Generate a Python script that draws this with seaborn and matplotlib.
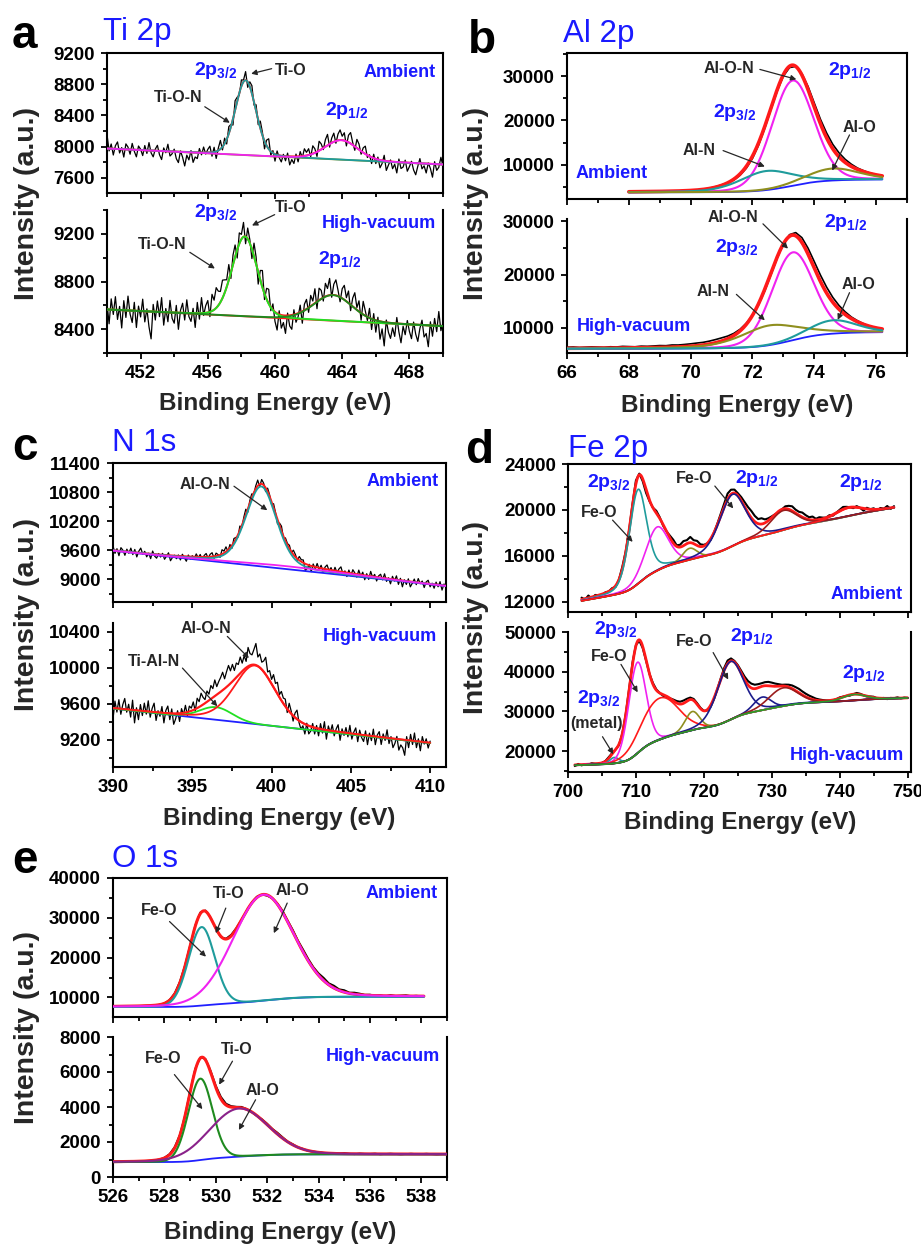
import math
import numpy as np
import matplotlib
matplotlib.use("Agg")
import matplotlib.pyplot as plt
from matplotlib.ticker import MultipleLocator
import seaborn as sns

# ---------------------------------------------------------------------------
# Fitted XPS components.  For every region: data range (eV), background end
# points (counts), share of a straight-line background (1 = linear, the rest
# follows a Shirley step), and pseudo-Voigt peaks given as centre (eV),
# height above background (counts), FWHM (eV) and Lorentzian fraction.
# Residuals are measured counts minus the fit on an even grid over the range.
# ---------------------------------------------------------------------------

# ---- Ti 2p, ambient ----
TI_AMB_RANGE = (450.0, 470.0)
TI_AMB_BG = (7975, 7770)
TI_AMB_CENTER = [458.25, 463.95]
TI_AMB_HEIGHT = [960, 250]
TI_AMB_FWHM = [1.45, 2.3]
TI_AMB_ETA = [0.1, 0.1]
TI_AMB_RESID = [  # units of 10 counts
    18, -3, 6, -8, 4, 9, -5, 2, -10, 7, 3, -6, 8, -2, -9, 5,
    1, -7, 6, -4, 10, -3, -8, 2, 7, -5, -11, 4, -2, 9, -6, -3,
    3, -9, -14, 1, -7, -18, -4, -10, 2, -13, -6, -8, 5, -3, 7, -2,
    4, 8, -5, 6, -9, 3, 11, -4, 7, -6, 9, 3, -8, 12, 5, -3,
    8, 2, 11, -7, 6, 10, -4, 8, -6, 9, 4, -10, 7, 13, -5, 3,
    -9, 5, -3, -8, 2, -6, 4, -11, -4, -9, 3, -7, 6, -2, 9, 4,
    8, -3, 10, 5, -6, 12, 7, -2, 9, 14, -4, 6, 11, -3, 8, 13,
    5, 10, -6, 9, 14, 3, -5, 11, 7, -4, 6, 10, -3, 2, -8, 5,
    -6, 3, -10, -4, 7, -12, -5, 2, -9, -3, -14, 4, -8, -6, 3, -11,
    -5, 2, -9, -15, -4, 6, -7, -3, -12, 1, -6, -17, 3, -8, -4, 9, -2]

# ---- Ti 2p, high vacuum ----
TI_HV_RANGE = (450.0, 470.0)
TI_HV_BG = (8565, 8425)
TI_HV_CENTER = [458.2, 463.45]
TI_HV_HEIGHT = [670, 215]
TI_HV_FWHM = [1.75, 2.7]
TI_HV_ETA = [0.1, 0.1]
TI_HV_RESID = [  # units of 10 counts
    5, -12, 9, -4, 11, -8, 3, -15, 8, -6, 12, -3, -10, 7, -14, 4,
    -5, 10, -9, 2, -13, -23, 6, -7, 9, -4, 12, -11, 3, -8, 10, -5,
    -9, 6, -14, 2, 8, -6, 11, -3, -7, 4, -12, 9, -5, 13, -2, 6,
    10, -4, 14, 8, 17, 12, 9, 15, 11, 6, 13, -5, 8, 10, -7, 9,
    4, 12, -6, 9, 3, -8, 11, 6, -10, 8, 14, -5, 9, 12, -3, 5,
    -8, -14, 3, -11, -6, -15, 2, -9, -12, 4, -7, -3, 6, -10, 5, 8,
    -4, 9, 3, 12, -6, 10, 7, -3, 11, 6, 14, -2, 9, 13, 5, -4,
    8, 12, 3, 10, -5, 7, 13, 2, 9, -6, 11, 4, -3, 8, -9, 5,
    -10, 3, -15, -6, -20, 2, -8, -13, -4, -11, 5, -7, -16, -2, -9, 3,
    -6, -12, 2, -8, -14, -3, 4, -10, -7, -18, 3, -9, 6, -5, 12, -4, 3]

# ---- Al 2p, ambient ----
AL_AMB_RANGE = (68.0, 76.2)
AL_AMB_BG = (3800, 6700)
AL_AMB_CENTER = [73.3, 72.45, 74.6]        # Al-O-N, Al-N, Al-O
AL_AMB_HEIGHT = [23700, 4300, 2700]
AL_AMB_FWHM = [1.6, 2.0, 2.0]
AL_AMB_ETA = [0.1, 0.3, 0.3]
AL_AMB_RESID = [
    0, 0, 50, 0, -50, 0, 50, 0, 0, 50, 0, -50, 0, 50, 100,
    100, 0, -200, -300, -400, -500, -500, -400, -300, -300,
    -300, -300, 0, 300, 700, 900,
    1000, 1100, 1000, 900, 700, 500, 300, 200, 100, 0, 0]

# ---- Al 2p, high vacuum ----
AL_HV_RANGE = (66.0, 76.2)
AL_HV_BG = (6100, 9200)
AL_HV_CENTER = [73.3, 72.55, 74.6]         # Al-O-N, Al-N, Al-O
AL_HV_HEIGHT = [16450, 3700, 2500]
AL_HV_FWHM = [1.6, 2.2, 1.8]
AL_HV_ETA = [0.1, 0.45, 0.2]
AL_HV_RESID = [
    200, 250, 150, 200, 250, 200, 150, 250, 200, 300,
    250, 200, 300, 250, 300, 350, 300, 400, 350, 400,
    450, 500, 500, 550, 600, 600, 500, 400, 300, 200,
    0, -200, -300, -300, -200, 0, 300,
    600, 900, 1100, 1200, 1200, 1100, 900, 700, 500, 300, 200, 100, 0, 0, 0]

# ---- N 1s, ambient ----
N_AMB_RANGE = (390.0, 411.0)
N_AMB_BG = (9590, 8860)
N_AMB_CENTER = [399.35, 401.0]             # Al-O-N, loss tail
N_AMB_HEIGHT = [1650, 60]
N_AMB_FWHM = [2.3, 9.0]
N_AMB_ETA = [0.3, 0.0]
N_AMB_RESID = [  # units of 10 counts
    9, -6, 4, -10, 7, 2, -8, 5, -3, 8, -5, 6, -9, 3, 10, -2,
    4, -7, 1, -10, 6, -4, -8, 2, -5, 3, -9, -2, 5, -11, -4, 1,
    -6, 2, -8, 4, -3, -10, 3, -5, 2, -4, 6, -2, 5, -6, 3, 7,
    -3, 5, 8, -4, 6, 2, -5, 9, 4, 10, -3, 7, -6, 8, 3, -5,
    9, -4, 6, 11, -7, 5, 8, -3, 6, 12, -5, 9, 4, -8, 7, 3,
    -6, 8, 2, -9, 5, 10, -4, 6, 3, 7, -2, 9, 5, -3, 8, 4,
    6, -14, -8, 2, -12, 5, -4, 8, -3, 6, -7, 4, 9, -2, 5, -6,
    7, -3, 5, 10, -4, 3, -8, 6, -5, 8, 2, -6, 9, -3, 6, -9,
    4, -7, 10, -2, 5, -8, 3, 7, -4, 9, -6, 2, -10, 6, -3, 8,
    -9, 4, -13, 2, -7, 5, -11, -3, 6, -5, 8, -2, 4, -9, 3, 7,
    -6, 2, -8, 5, -4, 7, -10, 3, -5]

# ---- N 1s, high vacuum ----
N_HV_RANGE = (390.0, 410.0)
N_HV_BG = (9550, 9165)
N_HV_CENTER = [396.5, 398.95]              # Ti-Al-N, Al-O-N
N_HV_HEIGHT = [140, 650]
N_HV_FWHM = [2.4, 3.1]
N_HV_ETA = [0.0, 0.25]
N_HV_RESID = [  # units of 10 counts
    -12, 8, -4, 10, -6, 5, 12, -3, 6, -8, 11, -14, 3, -10, 7, -5,
    9, -3, 12, -6, 4, 10, -9, 2, -4, 7, -11, 3, 8, -7, 5, -12,
    -6, 3, -9, 5, -2, 8, -4, 6, 3, 9, -2, 11, 6, 14, 8, 4,
    12, 7, 15, 10, 18, 9, 13, 16, 20, 11, 17, 22, 14, 19, 10, 16,
    12, 18, 9, 15, 7, 21, 13, 11, 17, 24, 10, 15, 8, 12, 19, 6,
    11, 5, 14, 8, 13, 3, 10, 6, 8, -4, 9, 3, -6, 5, 10, -2,
    -8, -3, -11, 2, -9, -5, 4, -7, 3, -8, 6, -4, 9, -10, 5, -2,
    7, -5, 3, 8, -9, 4, -3, 6, -4, 9, -6, 2, 7, -8, 5, -3,
    -7, 5, -10, 3, -5, 8, -9, 2, 6, -8, 4, -3, 9, -6, 2, -10,
    -5, 3, -12, -6, -9, -17, 4, -8, 7, -4, 9, -7, 3, -10, 6, -2,
    4, -6, 2]

# ---- Fe 2p, ambient ----
FE_AMB_RANGE = (702.0, 748.0)
FE_AMB_BG = (12100, 20200)
FE_AMB_LIN = 0.55
FE_AMB_CENTER = [710.3, 713.1, 717.9, 724.2, 731.7, 741.3]
FE_AMB_HEIGHT = [8200, 3800, 1000, 4500, 1700, 700]
FE_AMB_FWHM = [3.0, 4.0, 2.5, 4.5, 4.5, 4.5]
FE_AMB_ETA = [0.3, 0.3, 0.1, 0.3, 0.2, 0.1]
FE_AMB_RESID = [
    150, -100, 200, -150, 100, 0, -100, 50, 0, 100, -100, 0, 200, 100, 0, 100,
    300, 100, -200, -300, -100, 0, 200, 100, -100, 0, 200, 300, 100, 200, 400, 300,
    500, 300, 400, 200, 100, 0, -100, 0, 100, 200, 300, 500, 400, 300, 200, 300,
    400, 500, 600, 500, 400, 500, 300, 200, 100, 0, -100, 0, 200, 300, 400, 300,
    300, 400, 300, 200, 300, 100, 200, 100, 0, 100, -100, 0, 100, 200, 100, 0,
    -100, 100, 0, -200, 100, 0, 100, -100, 100, 0, 200, -100, 100]

# ---- Fe 2p, high vacuum ----
FE_HV_RANGE = (701.0, 750.0)
FE_HV_BG = (16400, 33400)
FE_HV_LIN = 0.15
FE_HV_CENTER = [706.8, 710.2, 713.5, 718.3, 723.9, 728.6, 731.7, 742.1]
FE_HV_HEIGHT = [1500, 23000, 10500, 4700, 14700, 3300, 4600, 1500]
FE_HV_FWHM = [1.6, 3.0, 6.5, 2.5, 4.5, 3.0, 5.0, 4.0]
FE_HV_ETA = [0.0, 0.1, 0.0, 0.1, 0.2, 0.1, 0.1, 0.1]
FE_HV_RESID = [
    -300, 200, -200, 100, -100, 200, 0, -100, 0, 100, 300, 200, 0, -200, 0, 200,
    300, 500, 200, -200, -400, -200, 0, 300, 200, 0, -300, -200, 0, 300, 500, 600,
    700, 600, 500, 400, 300, 200, 0, -200, -400, -300, 0, 300, 600, 800, 600, 300,
    400, 600, 800, 1000, 1100, 1000, 900, 800, 900, 1000, 900, 700, 500, 300, 400, 600,
    800, 900, 1000, 900, 800, 700, 600, 400, 300, 200, 100, 0, -100, 0, 200, 100,
    0, -200, 0, 300, 200, 0, -100, 100, 200, -100, 0, 100, -200, 100, 0, 200,
    -100, 100, 0]

# ---- O 1s, ambient ----
O_AMB_RANGE = (526.0, 538.1)
O_AMB_BG = (7600, 10200)
O_AMB_CENTER = [529.45, 531.85]            # Fe-O, Al-O
O_AMB_HEIGHT = [19700, 26600]
O_AMB_FWHM = [1.2, 2.8]
O_AMB_ETA = [0.05, 0.1]
O_AMB_RESID = [
    0, 0, 0, 0, 0, 0, 0, 0, 0, 0,
    0, 100, 200, 300, 200, 100, 200, 300, 200, 100,
    0, -200, 100, 300, 200, 0, -100, 100, 200, 0,
    -200, 0, 200, 400, 300, 500, 400, 600, 500, 400,
    500, 700, 400, 600, 300, 500, 200, 400, 300, 100,
    200, 0, 100, -100, 200, 0, 100, 200, 0, 100, 0]

# ---- O 1s, high vacuum ----
O_HV_RANGE = (526.0, 539.0)
O_HV_BG = (850, 1300)
O_HV_CENTER = [529.4, 530.9]               # Fe-O, Al-O
O_HV_HEIGHT = [4650, 2750]
O_HV_FWHM = [1.1, 2.7]
O_HV_ETA = [0.05, 0.1]
O_HV_RESID = [
    0, 0, 0, 0, 0, 0, 0, 0, 0, 0,
    20, 40, 60, 40, 20, 60, 80, 40, 60, 80,
    100, 120, 80, 60, 40, 60, 20, 0, -20, 40,
    60, 40, 80, 60, 20, 40, 0, 20, -20, 0,
    20, 0, -20, 20, 0, 40, 0, -20, 20, 0,
    0, 20, -20, 0, 20, 0, -20, 0, 20, 0,
    0, 20, 0, -20, 0, 0]

# ---------------------------------------------------------------------------
TEAL, MAGENTA, OLIVE = "#1f9c9c", "#f022f0", "#8f8f1f"
BLUE, NAVY, DARKRED = "#2020ff", "#1c1c8c", "#9a1c1c"
RED, LIME, DKGREEN = "#ff1a1a", "#22e022", "#1f8a1f"
PURPLE, GREEN = "#8a228a", "#2a9a2a"
LABEL_BLUE, INK = "#1a1aff", "#262626"

LN2 = math.log(2.0)
_erf = np.vectorize(math.erf)


def pvoigt(x, c, h, w, eta):
    u = (x - c) / w
    return h * ((1 - eta) * np.exp(-4 * LN2 * u * u) + eta / (1 + 4 * u * u))


def pvoigt_cum(x, c, h, w, eta):
    u = (np.asarray(x, float) - c) / w
    g = h * w / 4 * math.sqrt(math.pi / LN2) * (1 + _erf(2 * math.sqrt(LN2) * u))
    lor = h * w / 2 * (np.arctan(2 * u) + math.pi / 2)
    return (1 - eta) * g + eta * lor


def peaks(reg):
    return list(zip(reg["center"], reg["height"], reg["fwhm"], reg["eta"]))


def background(x, reg):
    x0, x1 = reg["range"]
    lo, hi = reg["bg"]
    lin = (x - x0) / (x1 - x0)
    share = reg["lin"]
    if share >= 1:
        return lo + (hi - lo) * lin
    cum = sum(pvoigt_cum(x, *p) for p in peaks(reg))
    c0 = sum(pvoigt_cum(x0, *p) for p in peaks(reg))
    c1 = sum(pvoigt_cum(x1, *p) for p in peaks(reg))
    step = (cum - c0) / (c1 - c0)
    return lo + (hi - lo) * (share * lin + (1 - share) * step)


def model(x, reg):
    bg = background(x, reg)
    comps = [pvoigt(x, *p) for p in peaks(reg)]
    return bg, comps, bg + sum(comps)


REGIONS = {
    "a1": dict(range=TI_AMB_RANGE, bg=TI_AMB_BG, lin=1.0, center=TI_AMB_CENTER,
               height=TI_AMB_HEIGHT, fwhm=TI_AMB_FWHM, eta=TI_AMB_ETA,
               resid=TI_AMB_RESID, unit=10, data_range=TI_AMB_RANGE,
               colors=[TEAL, MAGENTA], bg_color=OLIVE, env_lw=1.4, comp_lw=1.3, data_lw=0.9),
    "a2": dict(range=TI_HV_RANGE, bg=TI_HV_BG, lin=1.0, center=TI_HV_CENTER,
               height=TI_HV_HEIGHT, fwhm=TI_HV_FWHM, eta=TI_HV_ETA,
               resid=TI_HV_RESID, unit=10, data_range=TI_HV_RANGE,
               colors=[LIME, DKGREEN], bg_color=RED, env_lw=1.4, comp_lw=1.4, data_lw=0.9),
    "b1": dict(range=AL_AMB_RANGE, bg=AL_AMB_BG, lin=0.0, center=AL_AMB_CENTER,
               height=AL_AMB_HEIGHT, fwhm=AL_AMB_FWHM, eta=AL_AMB_ETA,
               resid=AL_AMB_RESID, unit=1, data_range=AL_AMB_RANGE,
               colors=[MAGENTA, TEAL, OLIVE], bg_color=BLUE, env_lw=2.6, comp_lw=1.5, data_lw=1.2),
    "b2": dict(range=AL_HV_RANGE, bg=AL_HV_BG, lin=0.0, center=AL_HV_CENTER,
               height=AL_HV_HEIGHT, fwhm=AL_HV_FWHM, eta=AL_HV_ETA,
               resid=AL_HV_RESID, unit=1, data_range=AL_HV_RANGE,
               colors=[MAGENTA, OLIVE, TEAL], bg_color=BLUE, env_lw=2.6, comp_lw=1.5, data_lw=1.2),
    "c1": dict(range=N_AMB_RANGE, bg=N_AMB_BG, lin=1.0, center=N_AMB_CENTER,
               height=N_AMB_HEIGHT, fwhm=N_AMB_FWHM, eta=N_AMB_ETA,
               resid=N_AMB_RESID, unit=10, data_range=N_AMB_RANGE,
               colors=[TEAL, MAGENTA], bg_color=BLUE, env_lw=1.4, comp_lw=1.3, data_lw=0.9),
    "c2": dict(range=N_HV_RANGE, bg=N_HV_BG, lin=1.0, center=N_HV_CENTER,
               height=N_HV_HEIGHT, fwhm=N_HV_FWHM, eta=N_HV_ETA,
               resid=N_HV_RESID, unit=10, data_range=N_HV_RANGE,
               colors=[LIME, RED], bg_color=BLUE, env_lw=1.6, comp_lw=1.3, data_lw=0.9),
    "d1": dict(range=FE_AMB_RANGE, bg=FE_AMB_BG, lin=FE_AMB_LIN, center=FE_AMB_CENTER,
               height=FE_AMB_HEIGHT, fwhm=FE_AMB_FWHM, eta=FE_AMB_ETA,
               resid=FE_AMB_RESID, unit=1, data_range=FE_AMB_RANGE,
               colors=[TEAL, MAGENTA, OLIVE, NAVY, DARKRED, RED], bg_color=GREEN,
               env_lw=2.0, comp_lw=1.2, data_lw=1.5),
    "d2": dict(range=FE_HV_RANGE, bg=FE_HV_BG, lin=FE_HV_LIN, center=FE_HV_CENTER,
               height=FE_HV_HEIGHT, fwhm=FE_HV_FWHM, eta=FE_HV_ETA,
               resid=FE_HV_RESID, unit=1, data_range=FE_HV_RANGE,
               colors=[TEAL, MAGENTA, RED, OLIVE, NAVY, NAVY, DARKRED, GREEN], bg_color=NAVY,
               env_lw=2.0, comp_lw=1.2, data_lw=1.5),
    "e1": dict(range=O_AMB_RANGE, bg=O_AMB_BG, lin=0.0, center=O_AMB_CENTER,
               height=O_AMB_HEIGHT, fwhm=O_AMB_FWHM, eta=O_AMB_ETA,
               resid=O_AMB_RESID, unit=1, data_range=(526.0, 538.0),
               colors=[TEAL, MAGENTA], bg_color=BLUE, env_lw=2.2, comp_lw=1.5, data_lw=1.3),
    "e2": dict(range=O_HV_RANGE, bg=O_HV_BG, lin=0.0, center=O_HV_CENTER,
               height=O_HV_HEIGHT, fwhm=O_HV_FWHM, eta=O_HV_ETA,
               resid=O_HV_RESID, unit=1, data_range=O_HV_RANGE,
               colors=[DKGREEN, PURPLE], bg_color=BLUE, env_lw=2.2, comp_lw=1.5, data_lw=1.3),
}

# axis limits and tick steps
XLIM = {"a": (450, 470), "b": (66, 77), "c": (390, 411), "d": (700, 750.5), "e": (526, 539)}
XSTEP = {"a": (4, 2), "b": (2, 1), "c": (5, 2.5), "d": (10, 5), "e": (2, 1)}
YLIM = {"a1": (7405, 9200), "a2": (8200, 9400), "b1": (2300, 35200), "b2": (5300, 30400),
        "c1": (8530, 11400), "c2": (8900, 10500), "d1": (11130, 24000), "d2": (14700, 50100),
        "e1": (5100, 40000), "e2": (0, 8000)}
YSTEP = {"a1": (400, 200), "a2": (400, 200), "b1": (10000, 5000), "b2": (10000, 5000),
         "c1": (600, 300), "c2": (400, 200), "d1": (4000, 2000), "d2": (10000, 5000),
         "e1": (10000, 5000), "e2": (2000, 1000)}

# text labels: (text, x, y, kind)  kind: 'sub' blue orbital, 'bond' dark label,
# 'state' blue condition, alignment given by last char of kind
NOTES = {
    "a1": [("2p$_{3/2}$", 455.2, 8921, "sub"), ("Ti-O", 460.0, 8921, "bond"),
           ("Ti-O-N", 452.8, 8575, "bond"), ("2p$_{1/2}$", 462.95, 8408, "sub"),
           ("Ambient", 469.55, 8892, "state_r")],
    "a2": [("2p$_{3/2}$", 455.2, 9342, "sub"), ("Ti-O", 460.0, 9384, "bond"),
           ("Ti-O-N", 451.85, 9073, "bond"), ("2p$_{1/2}$", 462.55, 8946, "sub"),
           ("High-vacuum", 469.6, 9248, "state_r")],
    "b1": [("Al-O-N", 70.41, 30600, "bond"), ("2p$_{1/2}$", 74.43, 30225, "sub"),
           ("2p$_{3/2}$", 70.72, 20850, "sub"), ("Al-O", 74.91, 17480, "bond"),
           ("Al-N", 69.75, 12250, "bond"), ("Ambient", 66.27, 7000, "state_l")],
    "b2": [("Al-O-N", 70.56, 29810, "bond"), ("2p$_{1/2}$", 74.33, 28870, "sub"),
           ("2p$_{3/2}$", 70.78, 24150, "sub"), ("Al-N", 70.19, 15960, "bond"),
           ("Al-O", 74.87, 17230, "bond"), ("High-vacuum", 66.32, 9360, "state_l")],
    "c1": [("Al-O-N", 394.17, 10872, "bond"), ("Ambient", 410.52, 10920, "state_r")],
    "c2": [("Al-O-N", 394.28, 10389, "bond"), ("Ti-Al-N", 390.92, 10017, "bond"),
           ("High-vacuum", 410.46, 10295, "state_r")],
    "d1": [("2p$_{3/2}$", 702.8, 22022, "sub"), ("Fe-O", 701.88, 19407, "bond"),
           ("Fe-O", 715.94, 22318, "bond"), ("2p$_{1/2}$", 724.58, 22318, "sub"),
           ("2p$_{1/2}$", 739.88, 22022, "sub"), ("Ambient", 749.26, 12296, "state_r")],
    "d2": [("2p$_{3/2}$", 703.85, 49566, "sub"), ("Fe-O", 703.36, 42755, "bond"),
           ("2p$_{3/2}$", 701.38, 32143, "sub"), ("(metal)", 700.4, 25765, "bond"),
           ("Fe-O", 715.94, 46580, "bond"), ("2p$_{1/2}$", 723.84, 47857, "sub"),
           ("2p$_{1/2}$", 740.37, 38520, "sub"), ("High-vacuum", 749.5, 17678, "state_r")],
    "e1": [("Fe-O", 527.1, 30756, "bond"), ("Ti-O", 529.87, 34962, "bond"),
           ("Al-O", 532.33, 35794, "bond"), ("Ambient", 538.62, 34962, "state_r")],
    "e2": [("Fe-O", 527.23, 6527, "bond"), ("Ti-O", 530.2, 7004, "bond"),
           ("Al-O", 531.16, 4702, "bond"), ("High-vacuum", 538.71, 6619, "state_r")],
}

# pointer arrows: (tail, head)
ARROWS = {
    "a1": [((459.8, 8999), (458.58, 8934)), ((455.82, 8511), (457.31, 8305))],
    "a2": [((459.98, 9361), (458.63, 9270)), ((454.93, 9045), (456.42, 8909))],
    "b1": [((72.24, 31500), (73.42, 29260)), ((75.14, 16740), (74.58, 8720)),
           ((71.05, 13210), (72.4, 9620))],
    "b2": [((72.34, 29490), (73.15, 24850)), ((71.48, 16280), (72.4, 11430)),
           ((75.14, 16600), (74.76, 11510))],
    "c1": [((397.63, 10920), (399.73, 10425))],
    "c2": [((397.21, 10351), (398.57, 10110)), ((394.38, 9999), (396.58, 9575))],
    "d1": [((706.56, 19120), (709.52, 17229)), ((721.62, 22083), (724.33, 20140))],
    "d2": [((707.8, 41913), (710.26, 34847)), ((705.08, 23622), (706.66, 19210)),
           ((721.37, 44898), (723.59, 38087))],
    "e1": [((528.2, 29068), (529.62, 20252)), ((530.39, 32443), (530.0, 26146)),
           ((532.78, 33703), (532.26, 26146))],
    "e2": [((528.39, 5853), (529.48, 3879)), ((530.65, 6619), (530.13, 5278)),
           ((531.55, 4414), (530.9, 2688))],
}

PANELS = [("a", "Ti 2p"), ("b", "Al 2p"), ("c", "N 1s"), ("d", "Fe 2p"), ("e", "O 1s")]

# ---------------------------------------------------------------------------
sns.set_theme(style="ticks")
plt.rcParams.update({
    "font.family": ["Liberation Sans", "DejaVu Sans"],
    "font.weight": "bold",
    "mathtext.fontset": "custom",
    "mathtext.rm": "Liberation Sans:bold",
    "mathtext.it": "Liberation Sans:bold",
    "mathtext.bf": "Liberation Sans:bold",
    "axes.facecolor": "white",
    "figure.facecolor": "white",
})

W, H = 921, 1245
fig = plt.figure(figsize=(W / 100, H / 100), dpi=100)

AX_PX = {
    "a1": (107, 53, 443, 193), "a2": (107, 210, 443, 353),
    "b1": (567, 53, 907, 199), "b2": (567, 219, 907, 353),
    "c1": (113, 463, 446, 602), "c2": (113, 623, 446, 767),
    "d1": (568, 464, 911, 612), "d2": (568, 632, 911, 772),
    "e1": (113, 878, 447, 1017), "e2": (113, 1037, 447, 1177),
}


def px_axes(L, T, R, B):
    return fig.add_axes([L / W, 1 - B / H, (R - L) / W, (B - T) / H])


def draw_region(ax, reg):
    x0, x1 = reg["range"]
    xf = np.linspace(x0, x1, 900)
    bg, comps, env = model(xf, reg)
    xm = np.linspace(reg["data_range"][0], reg["data_range"][1], len(reg["resid"]))
    _, _, envm = model(xm, reg)
    ym = envm + np.asarray(reg["resid"], float) * reg["unit"]
    kw = dict(ax=ax, estimator=None, sort=False)
    sns.lineplot(x=xm, y=ym, color="black", linewidth=reg["data_lw"], zorder=2, **kw)
    sns.lineplot(x=xf, y=env, color=RED, linewidth=reg["env_lw"], zorder=3, **kw)
    sns.lineplot(x=xf, y=bg, color=reg["bg_color"], linewidth=1.3, zorder=4, **kw)
    for comp, col in zip(comps, reg["colors"]):
        sns.lineplot(x=xf, y=bg + comp, color=col, linewidth=reg["comp_lw"], zorder=5, **kw)


def style_axes(ax, key):
    letter, row = key[0], key[1]
    ax.set_xlim(*XLIM[letter])
    ax.set_ylim(*YLIM[key])
    ax.xaxis.set_major_locator(MultipleLocator(XSTEP[letter][0]))
    ax.xaxis.set_minor_locator(MultipleLocator(XSTEP[letter][1]))
    ax.yaxis.set_major_locator(MultipleLocator(YSTEP[key][0]))
    ax.yaxis.set_minor_locator(MultipleLocator(YSTEP[key][1]))
    ax.tick_params(which="both", direction="out", top=False, right=False,
                   width=1.3, colors="black", labelsize=13.5)
    ax.tick_params(which="major", length=4.2, pad=4.5)
    ax.tick_params(which="minor", length=2.6)
    ax.tick_params(axis="x", labelbottom=(row == "2"))
    for sp in ax.spines.values():
        sp.set_linewidth(1.5)
        sp.set_color("black")
    ax.spines["top"].set_visible(row == "1")
    ax.set_xlabel("")
    ax.set_ylabel("")
    ax.grid(False)


def annotate(ax, key):
    for text, x, y, kind in NOTES[key]:
        if kind == "sub":
            ax.text(x, y, text, color=LABEL_BLUE, fontsize=14, ha="left", va="baseline", zorder=8)
        elif kind == "bond":
            ax.text(x, y, text, color=INK, fontsize=11.5, ha="left", va="baseline", zorder=8)
        else:
            ha = "right" if kind.endswith("r") else "left"
            ax.text(x, y, text, color=LABEL_BLUE, fontsize=13, ha=ha, va="baseline", zorder=8)
    for tail, head in ARROWS[key]:
        ax.annotate("", xy=head, xytext=tail, zorder=9,
                    arrowprops=dict(arrowstyle="-|>", color=INK, lw=0.9,
                                    mutation_scale=8, shrinkA=0, shrinkB=0))


for key, rect in AX_PX.items():
    ax = px_axes(*rect)
    draw_region(ax, REGIONS[key])
    style_axes(ax, key)
    annotate(ax, key)

# panel letters, element titles and shared axis labels (pixel positions)
LETTER_POS = {"a": (12, 48), "b": (468, 53), "c": (12, 460), "d": (465, 463), "e": (12, 873)}
TITLE_POS = {"a": (103, 40), "b": (563, 42), "c": (112, 451), "d": (568, 457), "e": (112, 867)}
YLABEL_POS = {"a": (27, 203), "b": (476, 204), "c": (27, 615), "d": (476, 618), "e": (27, 1027)}
XLABEL_POS = {"a": (275, 404), "b": (737, 405), "c": (279, 819), "d": (740, 823), "e": (280, 1233)}

for letter, title in PANELS:
    lx, ly = LETTER_POS[letter]
    fig.text(lx / W, 1 - ly / H, letter, fontsize=33, fontweight="bold", color="black",
             ha="left", va="baseline")
    tx, ty = TITLE_POS[letter]
    fig.text(tx / W, 1 - ty / H, title, fontsize=22.5, fontweight="normal", color=LABEL_BLUE,
             ha="left", va="baseline")
    yx, yy = YLABEL_POS[letter]
    fig.text(yx / W, 1 - yy / H, "Intensity (a.u.)", fontsize=20.5, fontweight="bold",
             rotation=90, ha="center", va="center")
    xx, xy = XLABEL_POS[letter]
    fig.text(xx / W, 1 - xy / H, "Binding Energy (eV)", fontsize=17.5, fontweight="bold",
             ha="center", va="center")

fig.savefig("out.png", dpi=100)
